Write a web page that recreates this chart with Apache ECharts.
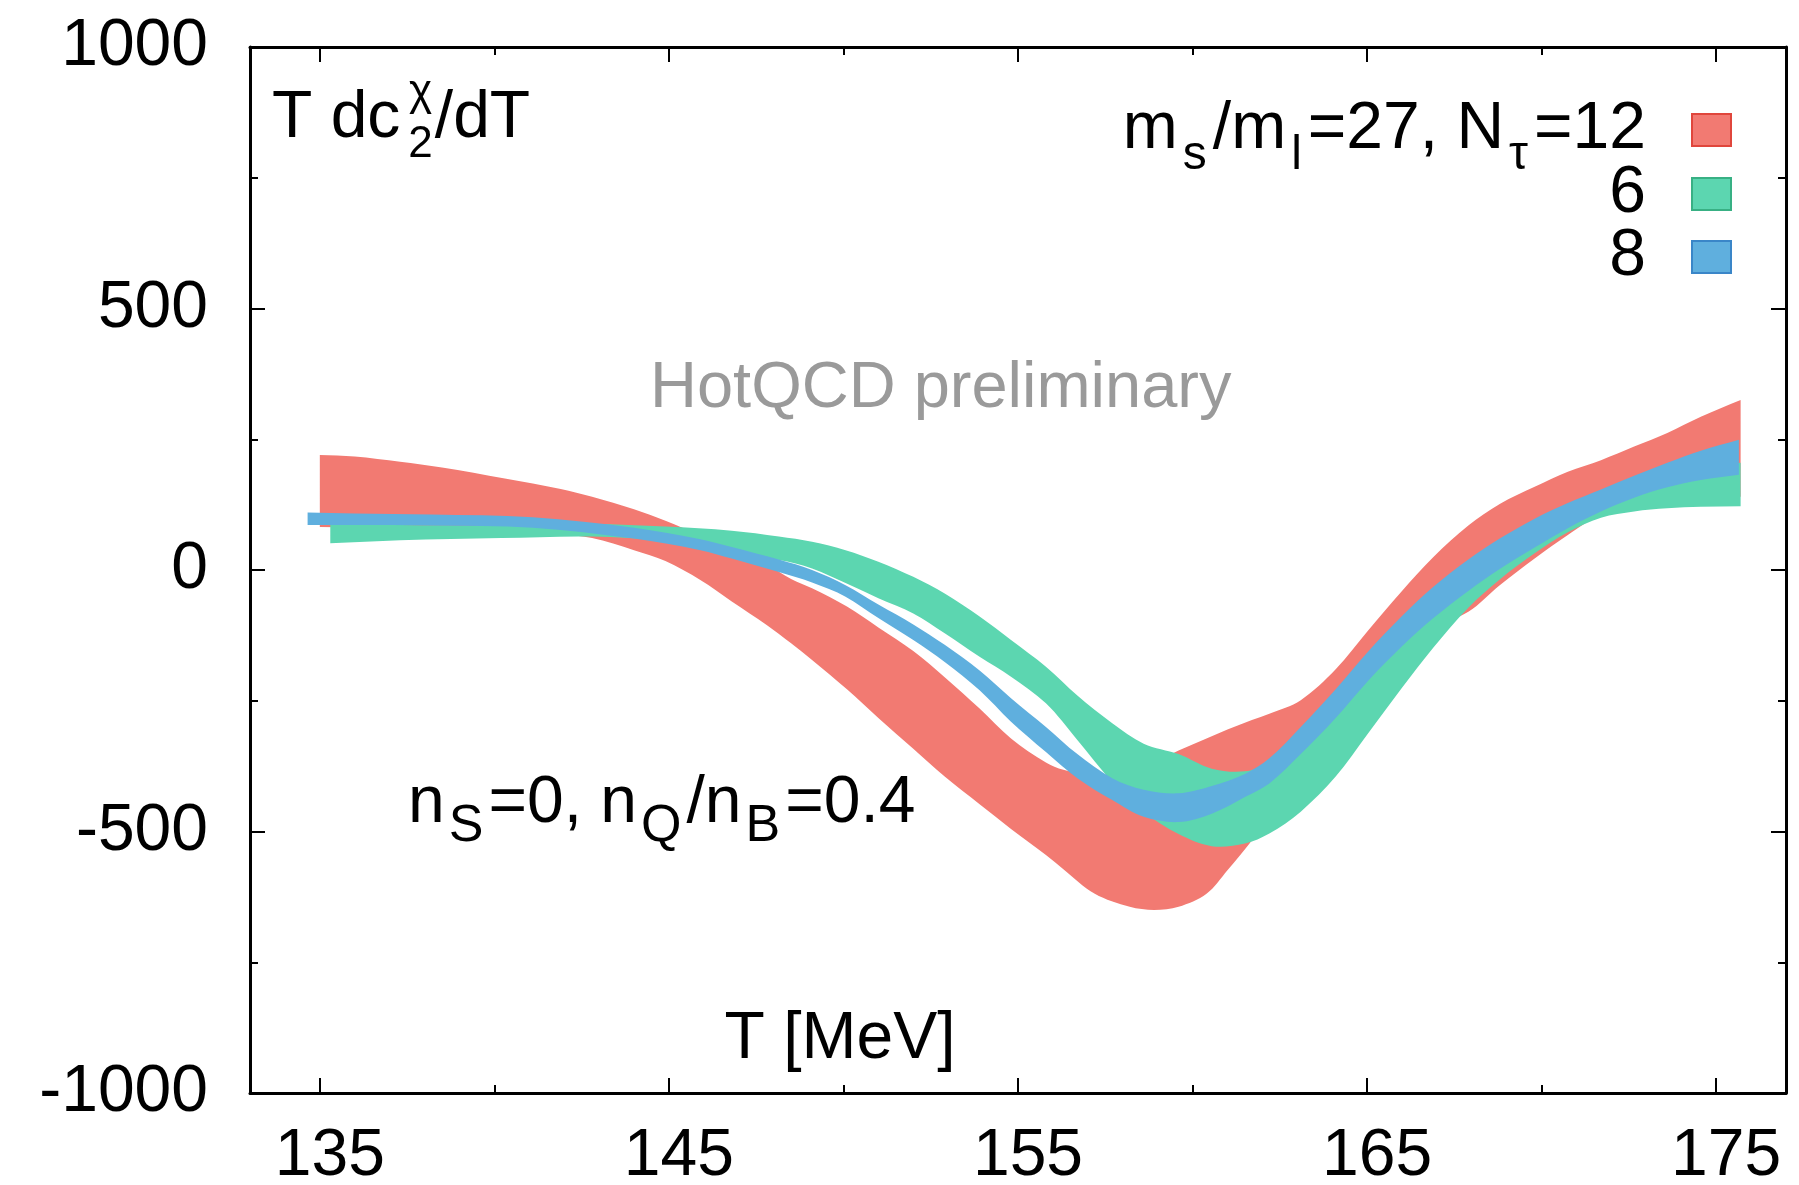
<!DOCTYPE html>
<html><head><meta charset="utf-8">
<script src="https://cdn.jsdelivr.net/npm/echarts@6/dist/echarts.min.js"></script>
<style>html,body{margin:0;padding:0;background:#fff}#c{width:1799px;height:1185px}</style>
</head><body><div id="c"></div>
<script>
// ---- Data ----
// N_tau = 12 band (red)
const T12 = [135.0,136.0,137.3,138.5,140.3,141.9,142.8,144.0,144.9,145.9,146.8,147.8,148.5,149.1,150.1,151.0,152.0,152.9,153.9,154.8,155.8,156.3,157.2,158.2,158.9,159.6,160.4,161.0,161.7,162.2,163.1,164.1,165.0,166.0,166.9,167.9,168.8,169.8,170.75,171.7,172.65,173.6,174.56,175.7];
const lo12 = [82,81,80,78,74,68,61,38,17,-19,-60,-105,-140,-172,-228,-283,-342,-395,-448,-495,-545,-572,-619,-644,-650,-644,-619,-574,-517,-470,-400,-320,-230,-150,-110,-80,-29,22,67,105,118,128,135,140];
const hi12 = [220,217,207,196,175,155,140,116,94,66,38,10,-17,-35,-70,-110,-155,-205,-265,-322,-368,-382,-392,-385,-368,-345,-322,-305,-287,-275,-249,-190,-118,-40,25,85,126,159,188,210,236,262,293,325];
// N_tau = 6 band (green)
const T6 = [135.3,137.3,140.2,142.8,144.9,146.8,148.15,149.1,150.06,151.0,152.0,152.9,153.9,154.8,155.8,156.7,157.7,158.6,159.6,160.55,161.5,162.2,163.1,164.1,165.0,166.0,166.9,167.9,168.8,169.8,170.75,171.7,172.65,173.6,174.56,175.7];
const lo6 = [51,57,61,64,55,30,19,3,-25,-54,-83,-121,-166,-204,-255,-325,-405,-462,-505,-528,-523,-504,-462,-395,-315,-225,-148,-72,-18,32,72,100,112,118,121,122];
const hi6 = [86,86,85,88,83,75,64,54,38,16,-13,-45,-89,-134,-185,-240,-293,-332,-352,-380,-385,-368,-320,-250,-180,-115,-60,-10,30,70,105,134,160,180,195,205];
// N_tau = 8 band (blue)
const T8 = [134.65,136.0,138.2,141.1,144.0,145.9,146.8,148.15,149.1,150.06,151.0,152.0,152.9,153.9,154.8,155.8,156.7,157.7,158.6,159.6,160.55,161.5,162.2,163.1,164.1,165.0,166.0,166.9,167.9,168.8,169.8,170.75,171.7,172.65,173.6,174.56,175.65];
const lo8 = [86,86,85,81,60,38,22,-4,-24,-51,-92,-134,-176,-230,-290,-348,-398,-440,-472,-482,-466,-434,-408,-352,-283,-214,-146,-92,-40,2,43,80,112,138,158,172,182];
const hi8 = [110,108,106,101,81,59,44,20,0,-29,-66,-104,-143,-192,-245,-300,-352,-398,-420,-427,-413,-390,-360,-300,-228,-158,-88,-32,20,60,98,128,154,180,205,228,249];

const xMajorTicks = [135,145,155,165,175];
const xMinorTicks = [140,150,160,170];
const yRange = [-1000, 1000];
const xRange = [133, 177];

// ---- Styling ----
const FONT = "'Liberation Sans', Arial, Helvetica, sans-serif";
const FS = 66;
const RED = '#F27A72', GREEN = '#5CD6B0', BLUE = '#5FAFDE';

function bandSeries(name, T, lo, hi, color) {
  return {
    type: 'custom', name: name, coordinateSystem: 'cartesian2d',
    xAxisIndex: 0, yAxisIndex: 0,
    data: T.map((t, i) => [t, lo[i], hi[i]]),
    encode: { x: 0, y: [1, 2] },
    itemStyle: { color: color },
    silent: true,
    renderItem: function (params, api) {
      if (params.dataIndex !== 0) return null;
      const top = T.map((t, i) => api.coord([t, hi[i]]));
      const bot = T.map((t, i) => api.coord([t, lo[i]])).reverse();
      const n = top.length;
      const pts = [top[0].slice()].concat(top, [top[n - 1].slice(), bot[0].slice()], bot, [bot[n - 1].slice()]);
      return { type: 'polygon', shape: { points: pts, smooth: 0.33 }, style: { fill: color } };
    }
  };
}

const richMain = { fontSize: FS, lineHeight: FS, fontFamily: FONT, color: '#000', verticalAlign: 'top' };
function richSub(size, padTop, padL, padR) {
  return { fontSize: size, lineHeight: size, fontFamily: FONT, color: '#000', verticalAlign: 'top', padding: [padTop, padR || 0, 0, padL || 0] };
}

function xAxisDef(pos, major, showLabel) {
  return {
    type: 'value', position: pos, min: xRange[0], max: xRange[1],
    axisLine: { show: major, onZero: false, lineStyle: { color: '#000', width: 3 } },
    axisTick: { show: true, inside: true, length: major ? 15 : 8, customValues: major ? xMajorTicks : xMinorTicks, lineStyle: { color: '#000', width: 2 } },
    axisLabel: { show: showLabel, customValues: xMajorTicks, fontSize: FS, fontFamily: FONT, color: '#000', margin: 31, padding: [0, 0, 0, 20] },
    splitLine: { show: false }
  };
}
function yAxisDef(pos, showLabel) {
  return {
    type: 'value', position: pos, min: yRange[0], max: yRange[1], interval: 500,
    axisLine: { show: true, onZero: false, lineStyle: { color: '#000', width: 3 } },
    axisTick: { show: true, inside: true, length: 15, lineStyle: { color: '#000', width: 2 } },
    minorTick: { show: true, splitNumber: 2, length: 8, lineStyle: { color: '#000', width: 2 } },
    axisLabel: { show: showLabel, fontSize: FS, fontFamily: FONT, color: '#000', margin: 42, formatter: (v) => String(v) },
    splitLine: { show: false }
  };
}

function legendDef(name, top, formatter, rich, border) {
  return {
    data: [{ name: name, itemStyle: { borderColor: border, borderWidth: 2 } }],
    orient: 'vertical', align: 'right', right: 67, top: top,
    icon: 'rect', itemWidth: 39, itemHeight: 32, padding: 0,
    selectedMode: false, formatter: formatter,
    textStyle: Object.assign({ fontSize: FS, fontFamily: FONT, color: '#000', padding: [0, 41, 0, 0] }, rich ? { rich: rich } : {})
  };
}

const option = {
  animation: false,
  backgroundColor: '#fff',
  grid: { left: 250, right: 13, top: 47, bottom: 92, outerBoundsMode: 'none' },
  xAxis: [xAxisDef('bottom', true, true), xAxisDef('bottom', false, false), xAxisDef('top', true, false), xAxisDef('top', false, false)],
  yAxis: [yAxisDef('left', true), yAxisDef('right', false)],
  legend: [
    legendDef('Nτ=12', 97, () => '{n|m}{s|s}{n|/m}{s|l}{n|=27, N}{s|τ}{n|=12}', { n: richMain, s: richSub(48, 35, 5, 6) }, '#E0463C'),
    legendDef('Nτ=6', 161, () => '6', null, '#38B084'),
    legendDef('Nτ=8', 224, () => '8', null, '#3A86C8')
  ],
  series: [
    bandSeries('Nτ=12', T12, lo12, hi12, RED),
    bandSeries('Nτ=6', T6, lo6, hi6, GREEN),
    bandSeries('Nτ=8', T8, lo8, hi8, BLUE)
  ],
  graphic: [
    { type: 'text', x: 272, y: 86, silent: true,
      style: { text: '{n|T dc}{s|2}{n|/dT}', align: 'left', verticalAlign: 'top',
        rich: { n: richMain, s: richSub(44, 37, 8, 2) } } },
    { type: 'text', x: 409, y: 93, silent: true,
      style: { text: 'χ', fontSize: 44, fontFamily: FONT, fill: '#000', align: 'left', verticalAlign: 'middle' } },
    { type: 'text', x: 650, y: 389, silent: true,
      style: { text: 'HotQCD preliminary', fontSize: 65, fontFamily: FONT, fill: '#9a9a9a', align: 'left', verticalAlign: 'middle' } },
    { type: 'text', x: 408, y: 771, silent: true,
      style: { text: '{n|n}{b|S}{n|=0, n}{b|Q}{n|/n}{b|B}{n|=0.4}', align: 'left', verticalAlign: 'top',
        rich: { n: richMain, b: richSub(52, 30, 4, 5) } } },
    { type: 'text', x: 840, y: 1040, silent: true,
      style: { text: 'T [MeV]', fontSize: FS, fontFamily: FONT, fill: '#000', align: 'center', verticalAlign: 'middle' } }
  ]
};

const chart = echarts.init(document.getElementById('c'), null, { renderer: 'canvas' });
chart.setOption(option);
</script>
</body></html>
